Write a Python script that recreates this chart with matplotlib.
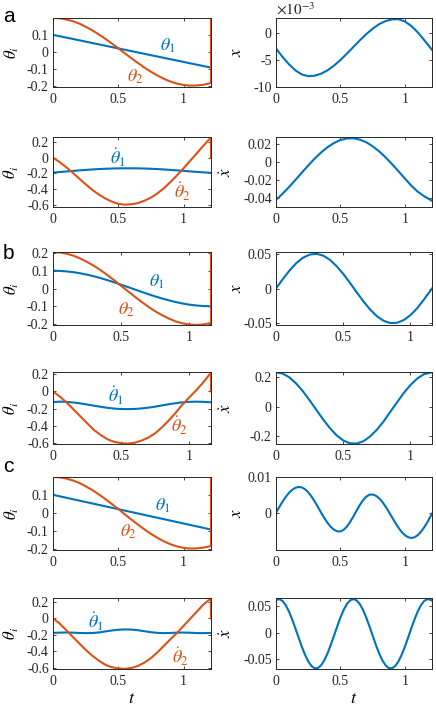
import numpy as np
import matplotlib
matplotlib.use('Agg')
import matplotlib.pyplot as plt
from matplotlib.ticker import FuncFormatter

BLUE = '#0072BD'
ORANGE = '#D95319'
W, H = 436, 708

# time samples
T_A = [0.0, 0.05, 0.1, 0.15, 0.2, 0.25, 0.3, 0.35, 0.4, 0.45, 0.5, 0.55, 0.6,
       0.65, 0.7, 0.75, 0.8, 0.85, 0.9, 0.95, 1.0, 1.05, 1.1, 1.15, 1.21]
T_B = [0.0, 0.05, 0.1, 0.15, 0.2, 0.25, 0.3, 0.35, 0.4, 0.45, 0.5, 0.55, 0.6,
       0.65, 0.7, 0.75, 0.8, 0.85, 0.9, 0.95, 1.0, 1.05, 1.1, 1.16]
T_C = T_A
# finer samples for the fast oscillations of case c
T_C2 = [0.0, 0.025, 0.05, 0.075, 0.1, 0.125, 0.15, 0.175, 0.2, 0.225, 0.25,
        0.275, 0.3, 0.325, 0.35, 0.375, 0.4, 0.425, 0.45, 0.475, 0.5, 0.525,
        0.55, 0.575, 0.6, 0.625, 0.65, 0.675, 0.7, 0.725, 0.75, 0.775, 0.8,
        0.825, 0.85, 0.875, 0.9, 0.925, 0.95, 0.975, 1.0, 1.025, 1.05, 1.075,
        1.1, 1.125, 1.15, 1.175, 1.2, 1.21]

# panel a
TH1_A = [0.100, 0.092, 0.084, 0.076, 0.068, 0.060, 0.052, 0.044, 0.036, 0.028,
         0.020, 0.012, 0.004, -0.004, -0.012, -0.020, -0.028, -0.036, -0.044,
         -0.052, -0.060, -0.068, -0.076, -0.084, -0.093]
TH2_A = [0.200, 0.198, 0.191, 0.181, 0.167, 0.148, 0.127, 0.103, 0.077, 0.049,
         0.021, -0.009, -0.038, -0.066, -0.093, -0.118, -0.140, -0.160, -0.176,
         -0.188, -0.196, -0.200, -0.199, -0.195, -0.184]
DTH1_A = [-0.190, -0.183, -0.176, -0.169, -0.162, -0.156, -0.150, -0.145,
          -0.141, -0.138, -0.136, -0.135, -0.135, -0.136, -0.138, -0.141,
          -0.145, -0.150, -0.156, -0.162, -0.168, -0.175, -0.181, -0.187, -0.193]
DTH2_A = [0.0, -0.055, -0.12, -0.19, -0.265, -0.34, -0.41, -0.47, -0.52, -0.56,
          -0.59, -0.60, -0.595, -0.58, -0.55, -0.51, -0.455, -0.39, -0.31,
          -0.225, -0.135, -0.04, 0.055, 0.15, 0.26]
X_A = [-0.00285, -0.00440, -0.00577, -0.00691, -0.00767, -0.00799, -0.00791,
       -0.00753, -0.00690, -0.00603, -0.00499, -0.00381, -0.00258, -0.00135,
       -0.00020, 0.00082, 0.00166, 0.00223, 0.00255, 0.00258, 0.00215, 0.00132,
       0.00013, -0.00131, -0.00310]
DX_A = [-0.042, -0.0353, -0.028, -0.0201, -0.012, -0.0041, 0.0035, 0.0103,
        0.0161, 0.0207, 0.024, 0.0257, 0.0259, 0.0244, 0.0215, 0.0171, 0.0115,
        0.0049, -0.0026, -0.0104, -0.0185, -0.0264, -0.033, -0.038, -0.043]

# panel b
TH1_B = [0.1, 0.0991, 0.0964, 0.0919, 0.0857, 0.0779, 0.0688, 0.0585, 0.0469,
         0.0345, 0.0215, 0.0081, -0.0054, -0.0188, -0.032, -0.0445, -0.0561,
         -0.0667, -0.0762, -0.0843, -0.0909, -0.0956, -0.0987, -0.1]
TH2_B = [0.205, 0.203, 0.196, 0.185, 0.169, 0.150, 0.128, 0.103, 0.075, 0.046,
         0.015, -0.015, -0.046, -0.075, -0.103, -0.128, -0.150, -0.169, -0.185,
         -0.196, -0.203, -0.205, -0.203, -0.194]
DTH1_B = [-0.125, -0.12, -0.122, -0.13, -0.14, -0.153, -0.167, -0.18, -0.192,
          -0.201, -0.206, -0.207, -0.205, -0.199, -0.19, -0.178, -0.164, -0.15,
          -0.138, -0.128, -0.122, -0.12, -0.122, -0.127]
DTH2_B = [0.0, -0.06, -0.13, -0.21, -0.29, -0.37, -0.45, -0.51, -0.56, -0.59,
          -0.605, -0.61, -0.60, -0.575, -0.54, -0.49, -0.42, -0.34, -0.25,
          -0.155, -0.07, 0.01, 0.10, 0.22]
X_B = [0.0, 0.0134, 0.0258, 0.0363, 0.0442, 0.0488, 0.0499, 0.0474, 0.0414,
       0.0323, 0.0210, 0.0081, -0.0054, -0.0185, -0.0303, -0.0398, -0.0464,
       -0.0497, -0.0493, -0.0454, -0.0383, -0.0284, -0.0159, 0.0]
DX_B = [0.235, 0.226, 0.20, 0.158, 0.105, 0.043, -0.023, -0.088, -0.147,
        -0.197, -0.233, -0.252, -0.254, -0.238, -0.205, -0.159, -0.102, -0.036,
        0.029, 0.093, 0.148, 0.192, 0.222, 0.235]

# panel c
TH1_C = [0.100, 0.092, 0.084, 0.076, 0.068, 0.060, 0.052, 0.044, 0.036, 0.028,
         0.020, 0.012, 0.004, -0.004, -0.012, -0.020, -0.028, -0.036, -0.044,
         -0.052, -0.060, -0.068, -0.076, -0.084, -0.094]
TH2_C = [0.200, 0.198, 0.191, 0.181, 0.167, 0.148, 0.127, 0.103, 0.077, 0.049,
         0.021, -0.009, -0.038, -0.066, -0.093, -0.118, -0.140, -0.160, -0.176,
         -0.188, -0.196, -0.200, -0.199, -0.195, -0.186]
DTH1_C = [-0.175, -0.172, -0.17, -0.172, -0.176, -0.178, -0.177, -0.17, -0.158,
          -0.146, -0.137, -0.133, -0.135, -0.143, -0.155, -0.167, -0.175,
          -0.178, -0.176, -0.172, -0.171, -0.173, -0.177, -0.178, -0.176]
DTH2_C = [0.0, -0.06, -0.14, -0.22, -0.30, -0.38, -0.45, -0.51, -0.56, -0.59,
          -0.605, -0.61, -0.60, -0.575, -0.535, -0.48, -0.41, -0.33, -0.25,
          -0.175, -0.09, -0.005, 0.08, 0.165, 0.245]
X_C = [0.0, 0.00158, 0.00309, 0.00444, 0.00559, 0.00647, 0.00705, 0.00729,
       0.00717, 0.00666, 0.00578, 0.00460, 0.00320, 0.00164, 0.00004, -0.00148,
       -0.00286, -0.00397, -0.00478, -0.00523, -0.00526, -0.00480, -0.00388,
       -0.00258, -0.00103, 0.00061, 0.00219, 0.00355, 0.00455, 0.00511,
       0.00517, 0.00482, 0.00410, 0.00306, 0.00176, 0.00029, -0.00126,
       -0.00279, -0.00420, -0.00541, -0.00633, -0.00690, -0.00710, -0.00690,
       -0.00630, -0.00534, -0.00408, -0.00258, -0.00092, -0.00025]
DX_C = [0.0615, 0.0629, 0.0596, 0.0518, 0.0401, 0.0253, 0.0085, -0.0090,
        -0.0261, -0.0413, -0.0537, -0.0624, -0.0666, -0.0662, -0.0610, -0.0516,
        -0.0386, -0.0227, -0.0056, 0.0119, 0.0285, 0.0429, 0.0538, 0.0606,
        0.0630, 0.0606, 0.0537, 0.0428, 0.0283, 0.0118, -0.0057, -0.0230,
        -0.0387, -0.0518, -0.0611, -0.0662, -0.0666, -0.0624, -0.0537, -0.0413,
        -0.0260, -0.0090, 0.0086, 0.0253, 0.0401, 0.0518, 0.0596, 0.0629,
        0.0615, 0.0601]

# value the orange curves jump back to at the last sample
WRAP_TH2 = {'a': 0.2, 'b': 0.205, 'c': 0.2}
WRAP_DTH2 = {'a': 0.0, 'b': 0.0, 'c': 0.0}

plt.rcParams.update({
    'font.family': 'Liberation Serif',
    'mathtext.fontset': 'stix',
    'font.size': 10,
    'axes.unicode_minus': False,
    'xtick.direction': 'in', 'ytick.direction': 'in',
    'xtick.top': True, 'ytick.right': True,
})

ROWS_PX = [(18, 87), (137, 207), (252, 325), (372, 444), (477, 550), (598, 669)]
COLS_PX = [(53, 211), (276, 432)]
LAB = 13
YLAB = 12

fig = plt.figure(figsize=(W / 100, H / 100), dpi=100)


def fmt(v, pos):
    return '%g' % (round(v, 6) + 0.0)


def make_ax(row, col, t, ylim, yticks, ylabel, lab_x):
    top, bot = ROWS_PX[row]
    x0, x1 = COLS_PX[col]
    ax = fig.add_axes([x0 / W, 1 - bot / H, (x1 - x0) / W, (bot - top) / H])
    ax.set_xlim(0, t[-1])
    ax.set_ylim(*ylim)
    ax.set_xticks([0, 0.5, 1])
    ax.set_yticks(yticks)
    ax.xaxis.set_major_formatter(FuncFormatter(fmt))
    ax.yaxis.set_major_formatter(FuncFormatter(fmt))
    ax.tick_params(length=2.5, width=0.6, colors='#262626', labelsize=10,
                   labelcolor='#262626')
    ax.tick_params(axis='x', pad=4)
    ax.tick_params(axis='y', pad=3)
    for s in ax.spines.values():
        s.set_color('#262626')
        s.set_linewidth(0.7)
    ax.set_ylabel(ylabel, fontsize=YLAB)
    ax.yaxis.set_label_coords(lab_x, 0.5)
    return ax


def theta_panel(row, t, th1, th2, wrap, ylim, yticks, p1, p2):
    ax = make_ax(row, 0, t, ylim, yticks, r'$\theta_i$', -0.2)
    ax.plot(t, th1, color=BLUE, lw=1.5)
    ax.plot(list(t) + [t[-1]], list(th2) + [wrap], color=ORANGE, lw=1.5)
    ax.text(*p1, r'$\theta_1$', color=BLUE, fontsize=LAB, ha='center', va='center')
    ax.text(*p2, r'$\theta_2$', color=ORANGE, fontsize=LAB, ha='center', va='center')
    return ax


def dtheta_panel(row, t, d1, d2, wrap, ylim, p1, p2):
    ax = make_ax(row, 0, t, ylim, [-0.6, -0.4, -0.2, 0, 0.2],
                 r'$\dot{\theta}_i$', -0.2)
    ax.plot(t, d1, color=BLUE, lw=1.5)
    ax.plot(list(t) + [t[-1]], list(d2) + [wrap], color=ORANGE, lw=1.5)
    ax.text(*p1, r'$\dot{\theta}_1$', color=BLUE, fontsize=LAB, ha='center', va='center')
    ax.text(*p2, r'$\dot{\theta}_2$', color=ORANGE, fontsize=LAB, ha='center', va='center')
    return ax


# a
theta_panel(0, T_A, TH1_A, TH2_A, WRAP_TH2['a'], (-0.208, 0.1995),
            [-0.2, -0.1, 0, 0.1], (0.88, 0.035), (0.63, -0.145))
ax = make_ax(0, 1, T_A, (-0.0100, 0.0028), [-0.01, -0.005, 0], r'$x$', -0.2)
ax.yaxis.set_major_formatter(FuncFormatter(lambda v, p: '%g' % (round(v * 1e3, 6) + 0.0)))
ax.text(0, 1.01, r'$\times10^{-3}$', transform=ax.transAxes, ha='left',
        va='bottom', fontsize=11, color='#262626')
ax.plot(T_A, X_A, color=BLUE, lw=1.5)
dtheta_panel(1, T_A, DTH1_A, DTH2_A, WRAP_DTH2['a'], (-0.63, 0.265),
             (0.5, -0.0), (0.99, -0.43))
ax = make_ax(1, 1, T_A, (-0.0498, 0.0273), [-0.04, -0.02, 0, 0.02],
             r'$\dot{x}$', -0.26)
ax.plot(T_A, DX_A, color=BLUE, lw=1.5)

# b
theta_panel(2, T_B, TH1_B, TH2_B, WRAP_TH2['b'], (-0.2056, 0.2056),
            [-0.2, -0.1, 0, 0.1, 0.2], (0.76, 0.04), (0.54, -0.12))
ax = make_ax(2, 1, T_B, (-0.0525, 0.0525), [-0.05, 0, 0.05], r'$x$', -0.2)
ax.plot(T_B, X_B, color=BLUE, lw=1.5)
dtheta_panel(3, T_B, DTH1_B, DTH2_B, WRAP_DTH2['b'], (-0.615, 0.227),
             (0.46, -0.05), (0.93, -0.40))
ax = make_ax(3, 1, T_B, (-0.257, 0.237), [-0.2, 0, 0.2], r'$\dot{x}$', -0.26)
ax.plot(T_B, DX_B, color=BLUE, lw=1.5)

# c
theta_panel(4, T_C, TH1_C, TH2_C, WRAP_TH2['c'], (-0.208, 0.1995),
            [-0.2, -0.1, 0, 0.1], (0.84, 0.04), (0.58, -0.105))
ax = make_ax(4, 1, T_C2, (-0.0105, 0.0101), [0, 0.01], r'$x$', -0.2)
ax.plot(T_C2, X_C, color=BLUE, lw=1.5)
ax = dtheta_panel(5, T_C, DTH1_C, DTH2_C, WRAP_DTH2['c'], (-0.612, 0.247),
                  (0.33, -0.04), (0.98, -0.46))
ax.set_xlabel(r'$t$', fontsize=LAB)
ax.xaxis.set_label_coords(0.5, -0.29)
ax = make_ax(5, 1, T_C2, (-0.068, 0.065), [-0.05, 0, 0.05], r'$\dot{x}$', -0.26)
ax.plot(T_C2, DX_C, color=BLUE, lw=1.5)
ax.set_xlabel(r'$t$', fontsize=LAB)
ax.xaxis.set_label_coords(0.5, -0.29)

for letter, base in (('a', 22), ('b', 259), ('c', 472)):
    fig.text(3 / W, 1 - base / H, letter, fontsize=15, family='Liberation Sans',
             ha='left', va='baseline')

fig.savefig('out.png', dpi=100)
